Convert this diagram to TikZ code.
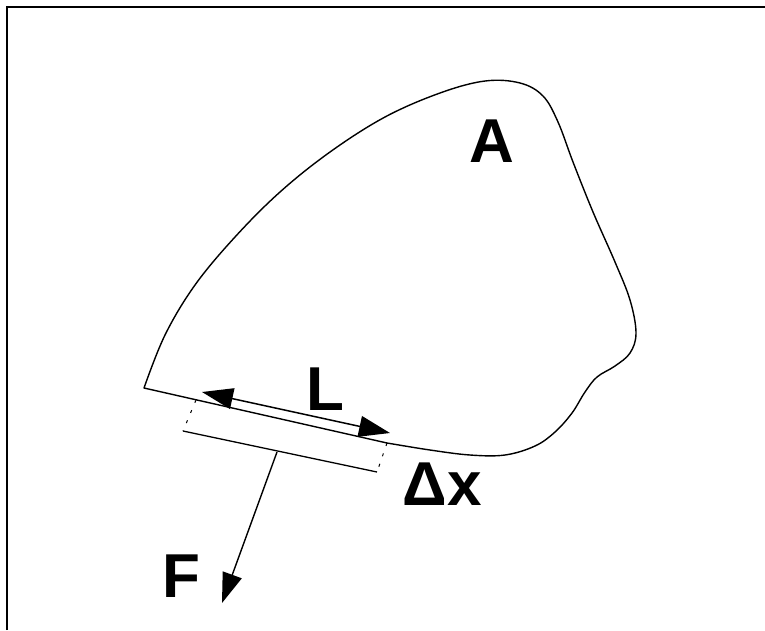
\documentclass[tikz,border=0pt]{standalone}
\usepackage{fontspec}
\setmainfont{Liberation Sans}
\usetikzlibrary{arrows.meta}
\begin{document}
\begin{tikzpicture}[x=1pt,y=-1pt,
  outline/.style={line width=1.4pt, line join=round},
  label/.style={inner sep=0pt, anchor=base, font=\fontsize{62}{70}\selectfont\bfseries},
  bigarrow/.style={line width=1.4pt, -{Triangle[length=30pt,width=20pt]}},
  dbarrow/.style={line width=1.5pt, {Triangle[length=31pt,width=21pt]}-{Triangle[length=31pt,width=21pt]}},
  sideline/.style={line width=1pt, dash pattern=on 3pt off 8pt}]
\useasboundingbox (0,0) rectangle (765,630);
% frame
\draw[line width=1.3pt] (7,630) -- (7,7) -- (765,7);
% region outline
\draw[outline] plot[smooth, tension=0.6] coordinates {
 (144,388) (165,335) (195,285) (235,237) (280,192) (330,152) (385,117)
 (440,93) (485,81) (520,83) (543,96) (558,122) (573,162) (593,212)
 (615,262) (630,300) (636,333) (630,353) (615,366) (597,377) (585,392)
 (572,413) (555,432) (535,446) (505,455) (470,455) (430,450) (387,443)}
 -- cycle;
% strip
\coordinate (tl) at (196,400);
\coordinate (bl) at (183,431);
\coordinate (br) at (377,472);
\coordinate (tr) at (387,443);
\draw[sideline] (tl) -- (bl);
\draw[sideline] (tr) -- (br);
\draw[line width=1.3pt] (bl) -- (br);
% L arrow
\coordinate (la) at (202,392);
\coordinate (lb) at (390,433);
\draw[dbarrow] (la) -- (lb);
% F arrow
\coordinate (fs) at (277,452);
\coordinate (fe) at (222,603);
\draw[bigarrow] (fs) -- (fe);
% labels
\node[label] (A) at (492,162) {A};
\node[label] (L) at (325,410) {L};
\node[label] (dx) at (442,505) {Δx};
\node[label] (F) at (181,597) {F};
\end{tikzpicture}
\end{document}
